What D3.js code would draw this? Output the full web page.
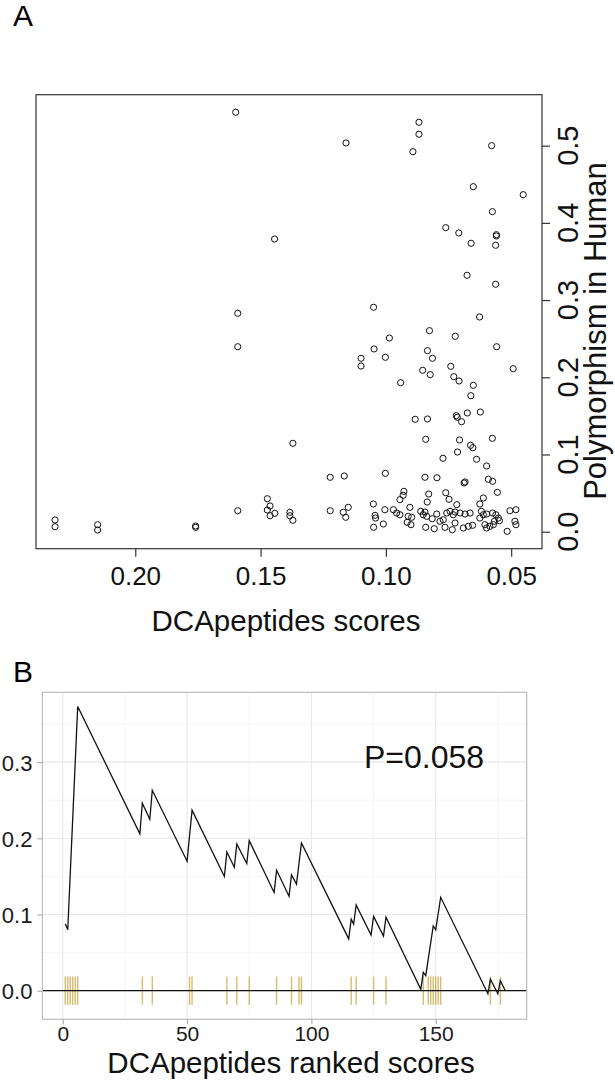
<!DOCTYPE html>
<html><head><meta charset="utf-8">
<script src="https://cdn.jsdelivr.net/npm/d3@7"></script>
<style>body{margin:0;background:#fff} svg{display:block} text{font-family:"Liberation Sans",Arial,Helvetica,sans-serif}</style>
</head><body><svg id="c" width="615" height="1080"></svg>
<script>
// ---------- Panel A data ----------
const scoreX=[0.2320,0.2320,0.2150,0.2150,0.1759,0.1759,0.1599,0.1591,0.1591,0.1591,
0.1473,0.1462,0.1473,0.1462,0.1443,0.1444,0.1383,0.1383,0.1371,0.1371,
0.1222,0.1222,0.1166,0.1159,0.1170,0.1150,0.1160,0.1099,0.1099,0.1049,
0.1047,0.1050,0.1043,0.1041,0.1049,0.1002,0.0986,0.1002,0.1004,0.1010,
0.0941,0.0928,0.0931,0.0944,0.0970,0.0957,0.0944,0.0904,0.0911,0.0897,
0.0915,0.0900,0.0892,0.0868,0.0868,0.0883,0.0853,0.0841,0.0844,0.0829,
0.0835,0.0861,0.0844,0.0851,0.0837,0.0841,0.0834,0.0826,0.0814,0.0823,
0.0834,0.0796,0.0797,0.0815,0.0784,0.0771,0.0807,0.0761,0.0772,0.0761,
0.0748,0.0757,0.0744,0.0731,0.0724,0.0764,0.0735,0.0741,0.0729,0.0723,
0.0709,0.0708,0.0719,0.0715,0.0698,0.0706,0.0714,0.0688,0.0684,0.0717,
0.0704,0.0684,0.0664,0.0691,0.0671,0.0654,0.0724,0.0676,0.0660,0.0651,
0.0675,0.0661,0.0651,0.0662,0.0653,0.0638,0.0626,0.0623,0.0611,0.0625,
0.0619,0.0611,0.0625,0.0598,0.0605,0.0598,0.0585,0.0571,0.0598,0.0591,
0.0574,0.0578,0.0575,0.0559,0.0559,0.0562,0.0562,0.0558,0.0575,0.0555,
0.0574,0.0561,0.0551,0.0567,0.0547,0.0505,0.0481,0.0485,0.0481,0.0516,
0.0492,0.0452];
const polyY=[0.0152,0.0065,0.0091,0.0022,0.0074,0.0057,0.5433,0.2829,0.2396,0.0272,
0.0427,0.0333,0.0281,0.0207,0.0238,0.3791,0.0251,0.0207,0.0148,0.1145,
0.0705,0.0272,0.0722,0.5035,0.0251,0.0316,0.0187,0.2246,0.2146,0.2907,
0.2367,0.0359,0.0212,0.0177,0.0057,0.2259,0.2509,0.0756,0.0285,0.0100,
0.1930,0.0523,0.0472,0.0415,0.0285,0.0242,0.0220,0.0316,0.0199,0.0187,
0.0122,0.0091,0.4922,0.5303,0.5148,0.1456,0.2091,0.1197,0.0705,0.0488,
0.0385,0.0264,0.0255,0.0220,0.0199,0.0057,0.2345,0.2604,0.2246,0.2034,
0.1460,0.0699,0.0229,0.0168,0.0135,0.0155,0.0039,0.3938,0.0951,0.0505,
0.0420,0.0242,0.0264,0.0220,0.0255,0.0057,0.0026,0.2142,0.2008,0.2531,
0.3869,0.1952,0.1503,0.1482,0.1425,0.1188,0.1032,0.0631,0.0644,0.0350,
0.0242,0.0229,0.0242,0.0048,0.0070,0.0083,0.0113,0.3321,0.3736,0.4469,
0.1538,0.1762,0.1896,0.1119,0.1088,0.0938,0.2781,0.1550,0.0437,0.0359,
0.0264,0.0220,0.0177,0.0229,0.0091,0.0048,0.0070,0.0091,0.0851,0.0679,
0.0653,0.5000,0.4145,0.3847,0.3830,0.3710,0.3205,0.2396,0.1210,0.0510,
0.0242,0.0220,0.0177,0.0135,0.0142,0.0272,0.0285,0.0135,0.0091,0.0005,
0.2111,0.4365];
const xTicksA=[0.20,0.15,0.10,0.05];
const yTicksA=[0.0,0.1,0.2,0.3,0.4,0.5];
const xTitleA="DCApeptides scores";
const yTitleA="Polymorphism in Human";

// ---------- Panel B data ----------
const esRank=[1,2,6,31,32,35,36,50,52,65,66,69,70,74,75,85,86,91,92,94,96,115,116,117,118,124,125,129,130,144,145,146,149,150,152,171,172,175,176,178];
const esValue=[0.088,0.080,0.373,0.206,0.246,0.225,0.263,0.170,0.237,0.150,0.182,0.162,0.1925,0.167,0.197,0.129,0.158,0.124,0.152,0.140,0.194,0.068,0.094,0.0875,0.1125,0.073,0.0976,0.0718,0.0963,0.002,0.024,0.0197,0.085,0.080,0.1226,-0.004,0.015,-0.004,0.013,0.0];
const hitRanks=[1,2,3,4,5,6,32,36,51,52,66,70,75,86,92,95,96,116,118,125,130,145,147,148,149,150,151,152,172,176];
const xTicksB=[0,50,100,150];
const yTicksB=[0.0,0.1,0.2,0.3];
const xMinorB=[25,75,125,175];
const yMinorB=[0.05,0.15,0.25,0.35];
const xTitleB="DCApeptides ranked scores";
const pLabel="P=0.058";

const svg=d3.select('#c');
svg.append('rect').attr('width',615).attr('height',1080).attr('fill','#fff');

// ================= Panel A =================
const A={l:36,r:542,t:94.7,b:548.7};
const xA=d3.scaleLinear().domain([0.2396,0.0377]).range([A.l,A.r]);
const yA=d3.scaleLinear().domain([-0.022,0.566]).range([A.b,A.t]);

svg.append('text').attr('x',13).attr('y',26).attr('font-size',30).text('A');

svg.append('rect').attr('x',A.l).attr('y',A.t).attr('width',A.r-A.l).attr('height',A.b-A.t)
  .attr('fill','none').attr('stroke','#333').attr('stroke-width',1.2);

const gxA=svg.append('g').attr('transform',`translate(0,${A.b})`)
  .call(d3.axisBottom(xA).tickValues(xTicksA).tickSize(8).tickFormat(d3.format('.2f')));
gxA.select('.domain').remove();
gxA.selectAll('line').attr('stroke','#333').attr('stroke-width',1.2);
gxA.selectAll('text').attr('font-size',26).attr('fill','#111').attr('y',36).attr('dy',null);

const gyA=svg.append('g').attr('transform',`translate(${A.r},0)`)
  .call(d3.axisRight(yA).tickValues(yTicksA).tickSize(8).tickFormat(''));
gyA.select('.domain').remove();
gyA.selectAll('line').attr('stroke','#333').attr('stroke-width',1.2);
svg.append('g').selectAll('text').data(yTicksA).join('text')
  .attr('transform',d=>`translate(578,${yA(d)}) rotate(-90)`)
  .attr('text-anchor','middle').attr('font-size',29).attr('fill','#111')
  .text(d3.format('.1f'));

svg.append('text').attr('x',(A.l+A.r)/2-3).attr('y',631).attr('text-anchor','middle')
  .attr('font-size',29.5).attr('fill','#111').text(xTitleA);
svg.append('text').attr('transform',`translate(606,331) rotate(-90)`).attr('text-anchor','middle')
  .attr('font-size',31).attr('fill','#111').text(yTitleA);

svg.append('g').selectAll('circle').data(scoreX.map((v,i)=>[v,polyY[i]])).join('circle')
  .attr('cx',d=>xA(d[0])).attr('cy',d=>yA(d[1])).attr('r',3.1)
  .attr('fill','none').attr('stroke','#111').attr('stroke-width',1);

// ================= Panel B =================
const B={l:42.4,r:526.7,t:692.3,b:1019.3};
const xB=d3.scaleLinear().domain([-8.2,186.6]).range([B.l,B.r]);
const yB=d3.scaleLinear().domain([-0.0375,0.3916]).range([B.b,B.t]);

svg.append('text').attr('x',13).attr('y',682).attr('font-size',30).text('B');

const grid=svg.append('g');
grid.selectAll('.vmin').data(xMinorB).join('line').attr('x1',d=>xB(d)).attr('x2',d=>xB(d)).attr('y1',B.t).attr('y2',B.b).attr('stroke','#f3f3f3').attr('stroke-width',0.8);
grid.selectAll('.hmin').data(yMinorB).join('line').attr('y1',d=>yB(d)).attr('y2',d=>yB(d)).attr('x1',B.l).attr('x2',B.r).attr('stroke','#f3f3f3').attr('stroke-width',0.8);
grid.selectAll('.vmaj').data(xTicksB).join('line').attr('x1',d=>xB(d)).attr('x2',d=>xB(d)).attr('y1',B.t).attr('y2',B.b).attr('stroke','#e8e8e8').attr('stroke-width',1.1);
grid.selectAll('.hmaj').data(yTicksB).join('line').attr('y1',d=>yB(d)).attr('y2',d=>yB(d)).attr('x1',B.l).attr('x2',B.r).attr('stroke','#e8e8e8').attr('stroke-width',1.1);

// rug of hits
const rugLo=-0.0185, rugHi=0.0185;
svg.append('g').selectAll('line').data(hitRanks).join('line')
  .attr('x1',d=>xB(d)).attr('x2',d=>xB(d)).attr('y1',yB(rugLo)).attr('y2',yB(rugHi))
  .attr('stroke','#c9a53e').attr('stroke-opacity',0.75).attr('stroke-width',1.4);

// zero line
svg.append('line').attr('x1',B.l).attr('x2',B.r).attr('y1',yB(0)).attr('y2',yB(0))
  .attr('stroke','#111').attr('stroke-width',1.2);

// running score line
svg.append('path').datum(esRank.map((r,i)=>[r,esValue[i]]))
  .attr('d',d3.line().x(d=>xB(d[0])).y(d=>yB(d[1])))
  .attr('fill','none').attr('stroke','#111').attr('stroke-width',1.3).attr('stroke-linejoin','miter');

svg.append('rect').attr('x',B.l).attr('y',B.t).attr('width',B.r-B.l).attr('height',B.b-B.t)
  .attr('fill','none').attr('stroke','#bdbdbd').attr('stroke-width',1.2);

const gxB=svg.append('g').attr('transform',`translate(0,${B.b})`)
  .call(d3.axisBottom(xB).tickValues(xTicksB).tickSize(5).tickFormat(d3.format('d')));
gxB.select('.domain').remove();
gxB.selectAll('line').attr('stroke','#aaa').attr('stroke-width',1.1);
gxB.selectAll('text').attr('font-size',21).attr('fill','#1a1a1a').attr('y',22).attr('dy',null);

const gyB=svg.append('g').attr('transform',`translate(${B.l},0)`)
  .call(d3.axisLeft(yB).tickValues(yTicksB).tickSize(5).tickFormat(d3.format('.1f')));
gyB.select('.domain').remove();
gyB.selectAll('line').attr('stroke','#aaa').attr('stroke-width',1.1);
gyB.selectAll('text').attr('font-size',22).attr('fill','#1a1a1a').attr('x',-10).attr('dy','0.36em');

svg.append('text').attr('x',364).attr('y',768).attr('font-size',32).attr('fill','#111').text(pLabel);
svg.append('text').attr('x',291).attr('y',1073).attr('text-anchor','middle')
  .attr('font-size',29.5).attr('fill','#111').text(xTitleB);
</script></body></html>
